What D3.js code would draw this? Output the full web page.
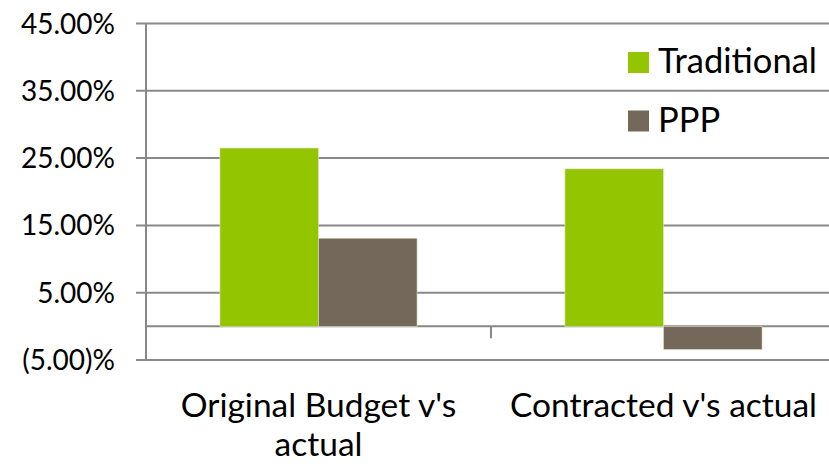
<!DOCTYPE html>
<html>
<head>
<meta charset="utf-8">
<script src="https://cdn.jsdelivr.net/npm/d3@7"></script>
<style>
  body { margin: 0; background: #fff; }
  svg { display: block; font-family: Lato, "Open Sans", sans-serif; }
  .grid line { stroke: #888888; stroke-width: 2; }
  .axisLabel { font-size: 28px; fill: #000; }
  .catLabel { font-size: 33.5px; fill: #000; }
  .legendText { font-size: 34.5px; fill: #000; }
</style>
</head>
<body>
<div id="chart"></div>
<script>
// chart values (percent)
var categories = ["Original Budget v's actual", "Contracted v's actual"];
var seriesNames = ["Traditional", "PPP"];
var traditional = [26.5, 23.4];
var ppp = [13.1, -3.45];
var yTicks = [-5, 5, 15, 25, 35, 45];
var colors = ["#93C500", "#73685A"];

var width = 829, height = 468;
var margin = {top: 23.5, right: -7, bottom: 108, left: 146};

var svg = d3.select("#chart").append("svg")
    .attr("width", width)
    .attr("height", height);

var y = d3.scaleLinear()
    .domain([-5, 45])
    .range([height - margin.bottom, margin.top]);

var x0 = d3.scaleBand()
    .domain(categories)
    .range([margin.left, width - margin.right])
    .padding(0);

// Excel style gap width of 150%
var x1 = d3.scaleBand()
    .domain(seriesNames)
    .range([0, x0.bandwidth()])
    .paddingInner(0)
    .paddingOuter(0.75);

function fmt(v){
    var s = Math.abs(v).toFixed(2);
    return v < 0 ? "(" + s + ")%" : s + "%";
}

//gridlines with small outward ticks
var grid = svg.append("g").attr("class", "grid");
grid.selectAll("line")
    .data(yTicks)
    .enter()
    .append("line")
    .attr("x1", margin.left - 10)
    .attr("x2", width)
    .attr("y1", function(d){ return y(d); })
    .attr("y2", function(d){ return y(d); });

// zero line (category axis)
grid.append("line")
    .attr("x1", margin.left)
    .attr("x2", width)
    .attr("y1", y(0))
    .attr("y2", y(0));

// tick between categories
grid.selectAll(".catTick")
    .data(categories.slice(1))
    .enter()
    .append("line")
    .attr("class", "catTick")
    .attr("x1", function(d){ return x0(d); })
    .attr("x2", function(d){ return x0(d); })
    .attr("y1", y(0))
    .attr("y2", y(0) + 12);

// value axis line
grid.append("line")
    .attr("x1", margin.left)
    .attr("x2", margin.left)
    .attr("y1", y(45))
    .attr("y2", y(-5));

svg.append("g").selectAll("text")
    .data(yTicks)
    .enter()
    .append("text")
    .attr("class", "axisLabel")
    .attr("x", 115)
    .attr("y", function(d){ return y(d); })
    .attr("dy", "0.36em")
    .attr("text-anchor", "end")
    .text(fmt);

// bars
var rows = categories.map(function(c, i){
    return [
        {cat: c, name: seriesNames[0], value: traditional[i], color: colors[0]},
        {cat: c, name: seriesNames[1], value: ppp[i], color: colors[1]}
    ];
});

svg.append("g").selectAll("g")
    .data(rows)
    .enter()
    .append("g")
    .attr("transform", function(d){ return "translate(" + x0(d[0].cat) + ",0)"; })
    .selectAll("rect")
    .data(function(d){ return d; })
    .enter()
    .append("rect")
    .attr("x", function(d){ return x1(d.name); })
    .attr("width", x1.bandwidth())
    .attr("y", function(d){ return y(Math.max(0, d.value)); })
    .attr("height", function(d){ return Math.abs(y(d.value) - y(0)); })
    .attr("fill", function(d){ return d.color; })
    .attr("stroke", "#dfe8c8")
    .attr("stroke-width", 0.6);

// category labels, wrapped to the band width
var catText = svg.append("g").selectAll("text")
    .data(categories)
    .enter()
    .append("text")
    .attr("class", "catLabel")
    .attr("text-anchor", "middle")
    .attr("x", function(d){ return x0(d) + x0.bandwidth() / 2; })
    .attr("y", 417);

catText.each(function(d){
    var t = d3.select(this);
    var words = d.split(" ");
    var line = [];
    var cx = t.attr("x");
    var tspan = t.append("tspan").attr("x", cx);
    words.forEach(function(w){
        line.push(w);
        tspan.text(line.join(" "));
        if (tspan.node().getComputedTextLength() > x0.bandwidth() - 20 && line.length > 1){
            line.pop();
            tspan.text(line.join(" "));
            line = [w];
            tspan = t.append("tspan").attr("x", cx).attr("dy", 39).text(w);
        }
    });
});

// legend
var legend = svg.append("g").selectAll("g")
    .data(seriesNames)
    .enter()
    .append("g")
    .attr("transform", function(d, i){ return "translate(628," + (52 + i * 58.5) + ")"; });

legend.append("rect")
    .attr("width", 21)
    .attr("height", 21)
    .attr("fill", function(d, i){ return colors[i]; });

legend.append("text")
    .attr("class", "legendText")
    .attr("x", 30)
    .attr("y", 21)
    .text(function(d){ return d; });
</script>
</body>
</html>
